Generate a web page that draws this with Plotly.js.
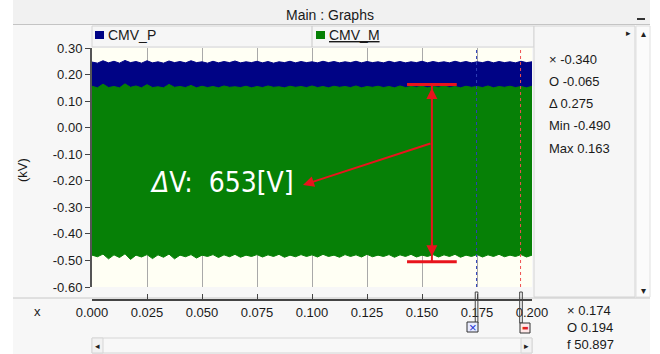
<!DOCTYPE html>
<html>
<head>
<meta charset="utf-8">
<script src="https://cdn.plot.ly/plotly-3.0.1.min.js"></script>
<style>html,body{margin:0;padding:0;background:#fff;}#chart{width:660px;height:354px;}</style>
</head>
<body>
<div id="chart"></div>
<script>
// ---- data ----
const timeS = [
0.0000,0.0025,0.0050,0.0075,0.0100,0.0125,0.0150,0.0175,0.0200,0.0225,
0.0250,0.0275,0.0300,0.0325,0.0350,0.0375,0.0400,0.0425,0.0450,0.0475,
0.0500,0.0525,0.0550,0.0575,0.0600,0.0625,0.0650,0.0675,0.0700,0.0725,
0.0750,0.0775,0.0800,0.0825,0.0850,0.0875,0.0900,0.0925,0.0950,0.0975,
0.1000,0.1025,0.1050,0.1075,0.1100,0.1125,0.1150,0.1175,0.1200,0.1225,
0.1250,0.1275,0.1300,0.1325,0.1350,0.1375,0.1400,0.1425,0.1450,0.1475,
0.1500,0.1525,0.1550,0.1575,0.1600,0.1625,0.1650,0.1675,0.1700,0.1725,
0.1750,0.1775,0.1800,0.1825,0.1850,0.1875,0.1900,0.1925,0.1950,0.1975,
0.2000];
// CMV_P upper envelope (kV)
const cmvPTop = [
0.247,0.243,0.252,0.244,0.250,0.243,0.253,0.245,0.249,0.243,
0.252,0.244,0.248,0.243,0.251,0.245,0.249,0.244,0.252,0.245,
0.248,0.243,0.250,0.244,0.249,0.245,0.251,0.244,0.248,0.245,
0.250,0.244,0.249,0.243,0.248,0.245,0.250,0.244,0.249,0.245,
0.248,0.244,0.250,0.245,0.249,0.244,0.248,0.245,0.250,0.244,
0.249,0.245,0.248,0.244,0.250,0.245,0.249,0.244,0.248,0.245,
0.250,0.244,0.249,0.245,0.248,0.244,0.250,0.245,0.249,0.244,
0.248,0.245,0.250,0.244,0.249,0.245,0.248,0.244,0.250,0.245,
0.248];
// CMV_M upper envelope (kV)
const cmvMTop = [
0.156,0.150,0.164,0.151,0.155,0.150,0.165,0.152,0.157,0.150,
0.162,0.151,0.154,0.150,0.163,0.152,0.155,0.151,0.159,0.150,
0.156,0.151,0.155,0.150,0.157,0.152,0.154,0.151,0.156,0.150,
0.155,0.151,0.157,0.152,0.154,0.150,0.156,0.152,0.155,0.151,
0.157,0.151,0.155,0.150,0.156,0.152,0.155,0.151,0.157,0.150,
0.155,0.152,0.156,0.151,0.155,0.150,0.157,0.151,0.155,0.152,
0.156,0.150,0.155,0.152,0.157,0.151,0.155,0.150,0.156,0.152,
0.155,0.151,0.157,0.150,0.155,0.152,0.156,0.151,0.155,0.150,
0.156];
// CMV_M lower envelope (kV)
const cmvMBot = [
-0.480,-0.486,-0.476,-0.494,-0.479,-0.489,-0.475,-0.496,-0.480,-0.487,
-0.478,-0.493,-0.479,-0.488,-0.476,-0.494,-0.480,-0.486,-0.478,-0.491,
-0.480,-0.485,-0.478,-0.489,-0.479,-0.486,-0.477,-0.488,-0.480,-0.485,
-0.478,-0.487,-0.479,-0.485,-0.477,-0.488,-0.480,-0.486,-0.478,-0.485,
-0.479,-0.487,-0.477,-0.485,-0.480,-0.488,-0.478,-0.485,-0.479,-0.487,
-0.477,-0.486,-0.480,-0.485,-0.478,-0.488,-0.479,-0.485,-0.477,-0.487,
-0.480,-0.485,-0.478,-0.487,-0.479,-0.485,-0.477,-0.488,-0.480,-0.485,
-0.478,-0.487,-0.479,-0.485,-0.477,-0.486,-0.480,-0.485,-0.478,-0.487,
-0.480];
const xTickVals = [0,0.025,0.05,0.075,0.1,0.125,0.15,0.175,0.2];
const xTickText = ['0.000','0.025','0.050','0.075','0.100','0.125','0.150','0.175','0.200'];
const yTickVals = [0.3,0.2,0.1,0,-0.1,-0.2,-0.3,-0.4,-0.5,-0.6];
const yTickText = ['0.30','0.20','0.10','0.00','-0.10','-0.20','-0.30','-0.40','-0.50','-0.60'];
const seriesNames = ['CMV_P','CMV_M'];
const cursorX = 0.1748, cursorO = 0.1948;
const readoutY = ['\u00D7 -0.340','O -0.065','\u0394 0.275','Min -0.490','Max 0.163'];
const readoutX = ['\u00D7 0.174','O 0.194','f 50.897'];
const deltaTime = 0.1545, deltaTop = 0.163, deltaBot = -0.505;
const deltaLabel = '<i>\u0394</i>V:\u00A0 653[V]';

// ---- layout helpers (pixel -> paper) ----
const L = 92, R = 532, T = 48, B = 344;
const px = v => (v - L) / (R - L);
const py = v => (B - v) / (B - T);
const FONT = 'Liberation Sans, Arial, sans-serif';
const BLUE = '#000385', GREEN = '#068006', RED = '#e8141c';

const traces = [
  {x: timeS, y: cmvPTop, type: 'scatter', mode: 'lines', fill: 'tozeroy',
   line: {color: BLUE, width: 1}, fillcolor: BLUE, name: seriesNames[0], hoverinfo: 'skip'},
  {x: timeS, y: cmvMBot, type: 'scatter', mode: 'lines',
   line: {color: GREEN, width: 1}, name: seriesNames[1], hoverinfo: 'skip'},
  {x: timeS, y: cmvMTop, type: 'scatter', mode: 'lines', fill: 'tonexty',
   line: {color: GREEN, width: 1}, fillcolor: GREEN, name: seriesNames[1], hoverinfo: 'skip'}
];

function prect(x0, y0, x1, y1, fill, line, layer) {
  return {type: 'rect', xref: 'paper', yref: 'paper', x0: px(x0), x1: px(x1), y0: py(y1), y1: py(y0),
    fillcolor: fill, line: {color: line || 'rgba(0,0,0,0)', width: line ? 1 : 0}, layer: layer || 'below'};
}
function pline(x0, y0, x1, y1, color, width, layer) {
  return {type: 'line', xref: 'paper', yref: 'paper', x0: px(x0), x1: px(x1), y0: py(y0), y1: py(y1),
    line: {color: color, width: width || 1}, layer: layer || 'below'};
}

const shapes = [
  prect(0, 0, 13, 354, '#ffffff'),
  prect(650, 0, 660, 354, '#ffffff'),
  prect(13, 0, 650, 24, '#f1f1f1'),
  pline(13, 24.5, 650, 24.5, '#c4c4c4'),
  prect(92, 26, 534, 47, '#f6f6f6', '#d4d4d4'),
  pline(312, 26, 312, 47, '#c8c8c8'),
  prect(534, 26, 635, 297, '#f6f6f6', '#d4d4d4'),
  prect(636, 26, 650, 297, '#fbfbfb', '#e0e0e0'),
  pline(13, 298, 650, 298, '#c8c8c8'),
  prect(92, 338, 532, 353, '#f8f8f8', '#d6d6d6'),
  prect(92, 338, 103, 353, '#f2f2f2', '#d6d6d6'),
  prect(521, 338, 532, 353, '#f2f2f2', '#d6d6d6'),
  prect(95, 31, 104, 39, BLUE, null, 'above'),
  prect(316, 31, 325, 39, GREEN, null, 'above'),
  pline(637, 19, 645, 19, '#333333', 2, 'above'),
  // cursors
  {type: 'line', xref: 'x', yref: 'y', x0: cursorX, x1: cursorX, y0: -0.6, y1: 0.3,
   line: {color: '#2f3fb8', width: 1, dash: 'dot'}},
  {type: 'line', xref: 'x', yref: 'y', x0: cursorO, x1: cursorO, y0: -0.6, y1: 0.3,
   line: {color: '#f05050', width: 1, dash: 'dot'}},
  // cursor handles
  {type: 'rect', xref: 'x', yref: 'paper', x0: cursorX - 0.0006, x1: cursorX + 0.0006, y0: py(323), y1: py(292),
   fillcolor: 'rgba(0,0,0,0)', line: {color: '#444', width: 1}},
  prect(467, 322, 478, 332, '#e8ecff', '#333', 'above'),
  {type: 'rect', xref: 'x', yref: 'paper', x0: cursorO - 0.0004, x1: cursorO + 0.0008, y0: py(323), y1: py(292),
   fillcolor: 'rgba(0,0,0,0)', line: {color: '#444', width: 1}},
  prect(520, 323, 530, 333, '#ffe8e8', '#333', 'above'),
  // delta-V marker
  {type: 'line', xref: 'x', yref: 'y', x0: deltaTime, x1: deltaTime, y0: deltaBot, y1: deltaTop,
   line: {color: RED, width: 2}},
  {type: 'line', xref: 'x', yref: 'y', x0: deltaTime - 0.0113, x1: deltaTime + 0.0113, y0: deltaTop, y1: deltaTop,
   line: {color: RED, width: 3}},
  {type: 'line', xref: 'x', yref: 'y', x0: deltaTime - 0.0113, x1: deltaTime + 0.0113, y0: deltaBot, y1: deltaBot,
   line: {color: RED, width: 3}}
];

function ptext(x, y, text, opts) {
  return Object.assign({xref: 'paper', yref: 'paper', x: px(x), y: py(y), text: text, showarrow: false,
    xanchor: 'left', yanchor: 'middle', font: {family: FONT, size: 13, color: '#1a1a1a'}}, opts || {});
}

const annotations = [
  ptext(330, 15, 'Main : Graphs', {xanchor: 'center', font: {family: FONT, size: 14, color: '#1a1a1a'}}),
  ptext(106, 35, seriesNames[0], {font: {family: FONT, size: 14, color: '#1a1a1a'}}),
  ptext(327, 35, '<u>' + seriesNames[1] + '</u>', {font: {family: FONT, size: 14, color: '#1a1a1a'}}),
  ptext(22, 170, '(kV)', {xanchor: 'center', textangle: -90}),
  ptext(37, 311, 'x', {xanchor: 'center'}),
  ptext(628, 33, '\u25B8', {xanchor: 'center', font: {family: 'DejaVu Sans', size: 9, color: '#222'}}),
  ptext(643, 33, '\u25B4', {xanchor: 'center', font: {family: 'DejaVu Sans', size: 10, color: '#222'}}),
  ptext(643, 290, '\u25BE', {xanchor: 'center', font: {family: 'DejaVu Sans', size: 10, color: '#222'}}),
  ptext(97.5, 346, '\u25C2', {xanchor: 'center', font: {family: 'DejaVu Sans', size: 9, color: '#222'}}),
  ptext(526.5, 346, '\u25B8', {xanchor: 'center', font: {family: 'DejaVu Sans', size: 9, color: '#222'}}),
  ptext(472.5, 327, '\u00D7', {xanchor: 'center', font: {family: FONT, size: 13, color: '#2030d0'}}),
  ptext(525, 328, '\u25AC', {xanchor: 'center', font: {family: 'DejaVu Sans', size: 7, color: '#e02020'}}),
  // delta arrows
  {xref: 'x', yref: 'y', axref: 'x', ayref: 'y', x: deltaTime, y: 0.149, ax: deltaTime, ay: 0.10, text: '',
   showarrow: true, arrowhead: 2, arrowsize: 1.1, arrowwidth: 2, arrowcolor: RED, standoff: 0},
  {xref: 'x', yref: 'y', axref: 'x', ayref: 'y', x: deltaTime, y: -0.484, ax: deltaTime, ay: -0.43, text: '',
   showarrow: true, arrowhead: 2, arrowsize: 1.1, arrowwidth: 2, arrowcolor: RED, standoff: 0},
  {xref: 'x', yref: 'y', axref: 'x', ayref: 'y', x: 0.0959, y: -0.216, ax: deltaTime, ay: -0.058, text: '',
   showarrow: true, arrowhead: 2, arrowsize: 1.1, arrowwidth: 2, arrowcolor: RED, standoff: 0},
  {xref: 'x', yref: 'y', x: 0.0593, y: -0.205, text: deltaLabel, showarrow: false,
   xanchor: 'center', yanchor: 'middle',
   font: {family: 'Liberation Sans Narrow, DejaVu Sans Condensed, sans-serif', size: 28, color: '#ffffff'}}
];
readoutY.forEach((t, i) => annotations.push(ptext(547, [59, 81, 103, 126, 148][i], t)));
readoutX.forEach((t, i) => annotations.push(ptext(565, [310, 327, 344][i], t)));

const layout = {
  width: 660, height: 354,
  margin: {l: L, r: 660 - R, t: T, b: 354 - B, pad: 0},
  paper_bgcolor: '#f7f7f7', plot_bgcolor: '#fffff4',
  showlegend: false,
  font: {family: FONT, size: 13, color: '#1a1a1a'},
  xaxis: {range: [0, 0.2], anchor: 'free', position: py(300),
    tickvals: xTickVals, ticktext: xTickText, ticks: 'inside', ticklen: 5, tickwidth: 1, tickcolor: '#444',
    showline: true, linecolor: '#444', linewidth: 2, showgrid: true, gridcolor: '#a9a9a9', gridwidth: 1,
    zeroline: false, tickfont: {family: FONT, size: 13, color: '#1a1a1a'}, fixedrange: true},
  yaxis: {range: [-0.6, 0.3], domain: [py(287), 1],
    tickvals: yTickVals, ticktext: yTickText, ticks: 'outside', ticklen: 5, tickwidth: 1, tickcolor: '#444',
    showline: true, linecolor: '#555', linewidth: 2, showgrid: false, zeroline: false,
    tickfont: {family: FONT, size: 13, color: '#1a1a1a'}, fixedrange: true},
  shapes: shapes,
  annotations: annotations
};

Plotly.newPlot('chart', traces, layout, {staticPlot: true, displayModeBar: false});
</script>
</body>
</html>
